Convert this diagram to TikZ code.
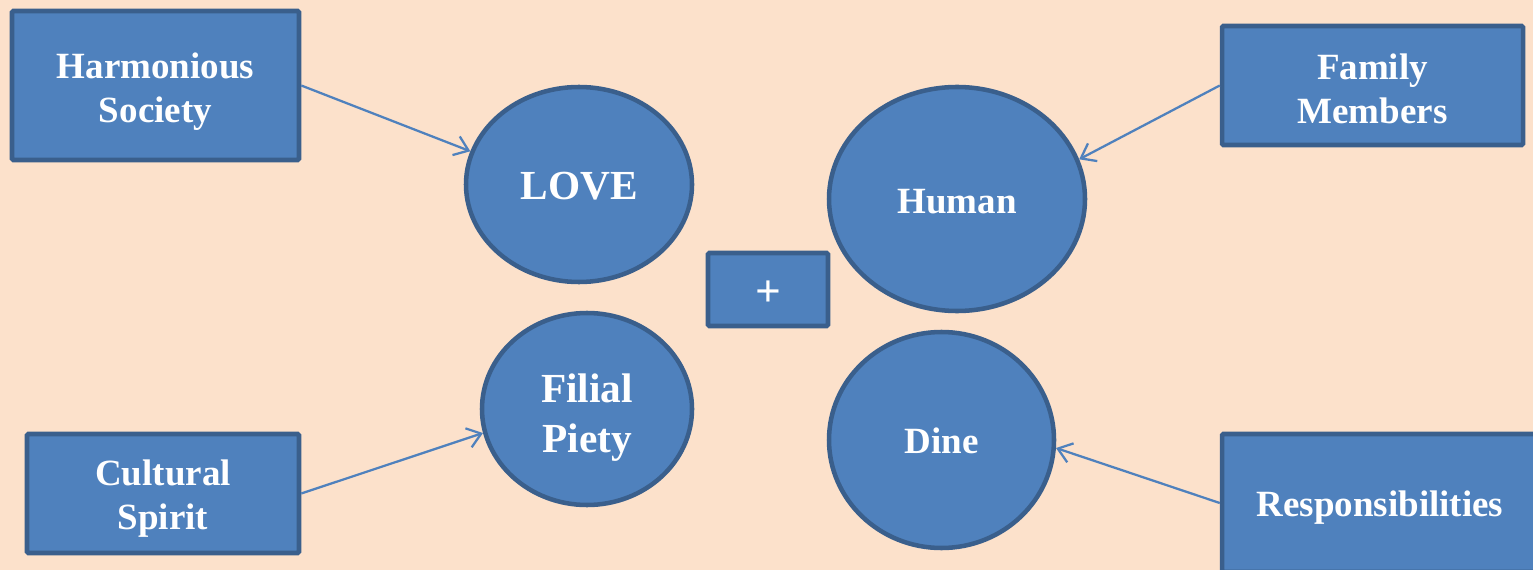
\documentclass[tikz,border=0pt]{standalone}
\usepackage{fontspec}
\setmainfont{Liberation Serif}
\usetikzlibrary{shapes.geometric,arrows.meta}
\definecolor{bgpeach}{HTML}{FCE1CB}
\definecolor{fillblue}{HTML}{4F81BD}
\definecolor{edgeblue}{HTML}{3A5F8C}
% lower a line of text without changing its box
\newcommand{\lowered}[2]{\raisebox{-#1}[\height][\depth]{#2}}
\tikzset{
  labelfont/.style={font=\fontsize{27.75}{33}\selectfont\bfseries},
  bigfont/.style={font=\fontsize{31}{37.5}\selectfont\bfseries},
  conceptbox/.style={rectangle, rounded corners=1pt, draw=edgeblue, line width=3.4pt,
    fill=fillblue, text=white, align=center, inner sep=0pt, labelfont},
  concept/.style={ellipse, draw=edgeblue, line width=3.4pt, fill=fillblue,
    text=white, align=center, inner sep=0pt, labelfont},
  link/.style={draw=fillblue, line width=1.7pt,
    -{Straight Barb[length=10pt,width=15pt,line width=1.7pt]}}
}
\begin{document}
\begin{tikzpicture}[x=0.75pt,y=-0.75pt]
  % page background and frame
  \fill[bgpeach] (0,0) rectangle (1533,570);
  \useasboundingbox (0,0) rectangle (1533,570);
  \clip (0,0) rectangle (1533,570);

  % outer boxes
  \node[conceptbox, minimum width=215.25pt, minimum height=111.75pt] (hs) at (155.5,85.5)
    {\lowered{4.5pt}{Harmonious}\\\lowered{4.5pt}{Society}};
  \node[conceptbox, minimum width=225.75pt, minimum height=89.25pt] (fm) at (1372.5,85.5)
    {\lowered{2.25pt}{Family}\\\lowered{2.25pt}{Members}};
  \node[conceptbox, minimum width=204pt, minimum height=89.25pt] (cs) at (163,493.5)
    {\lowered{3.75pt}{Cultural}\\\lowered{3.75pt}{Spirit}};
  \node[conceptbox, minimum width=237pt, minimum height=103.5pt] (resp) at (1380,503)
    {\lowered{3.75pt}{Responsibilities}};

  % centre plus sign
  \node[conceptbox, minimum width=90pt, minimum height=54.75pt,
        font=\fontsize{34}{40}\selectfont\bfseries] (plus) at (768,289.5)
    {\lowered{3pt}{+}};

  % four concepts
  \node[concept, minimum width=169.5pt, minimum height=146.25pt, bigfont] (love) at (579,184.5)
    {\lowered{1.5pt}{LOVE}};
  \node[concept, minimum width=192pt, minimum height=168pt] (human) at (957,199)
    {\lowered{2.25pt}{Human}};
  \node[concept, minimum width=157.5pt, minimum height=144pt, bigfont] (filial) at (587,409)
    {\lowered{6.5pt}{Filial}\\\lowered{6.5pt}{Piety}};
  \node[concept, minimum width=168.75pt, minimum height=162pt] (dine) at (941.5,440)
    {\lowered{0.75pt}{Dine}};

  % connectors
  \draw[link] (hs.east) -- (love.163);
  \draw[link] (fm.west) -- (human.18);
  \draw[link] (cs.east) -- (filial.193);
  \draw[link] (resp.west) -- (dine.356);
\end{tikzpicture}
\end{document}
